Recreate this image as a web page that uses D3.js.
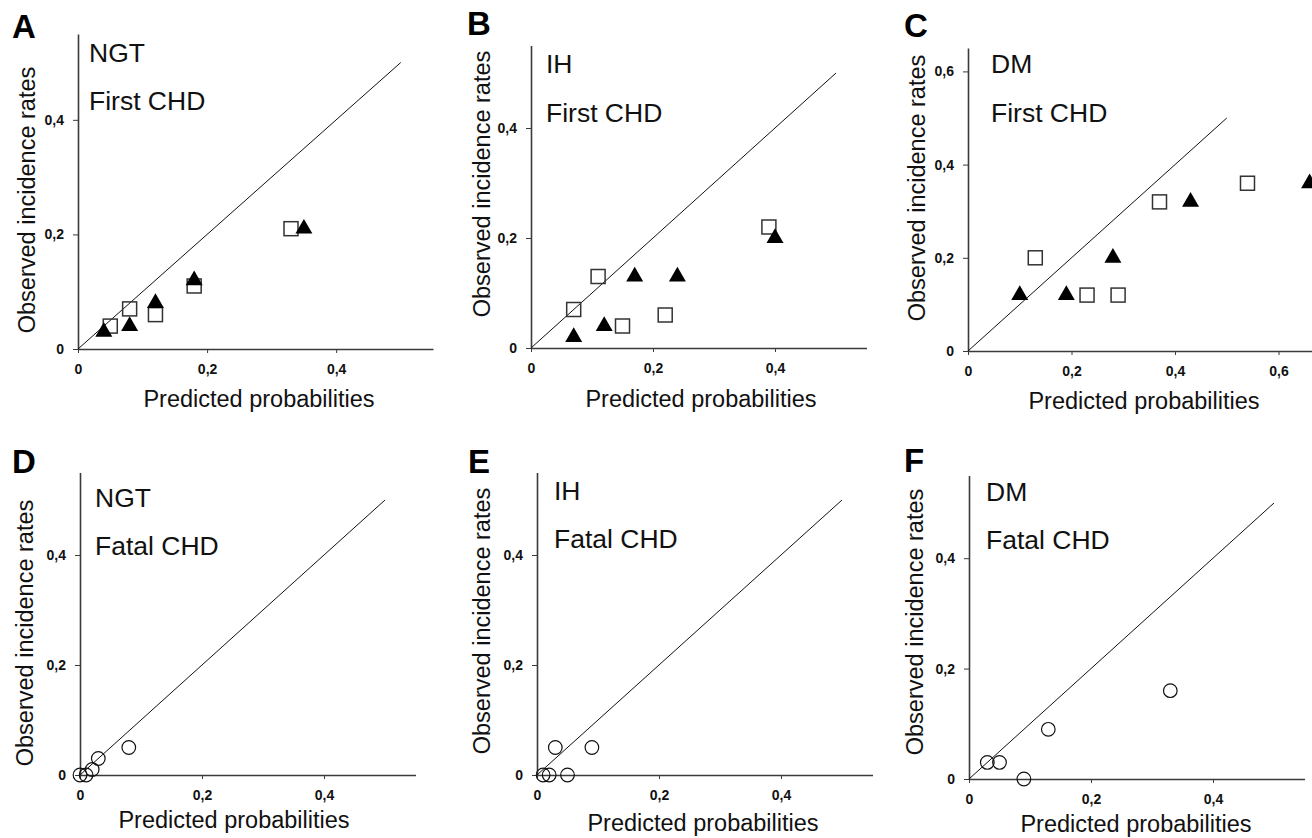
<!DOCTYPE html>
<html><head><meta charset="utf-8">
<script src="https://cdn.jsdelivr.net/npm/d3@7"></script>
<style>
body{margin:0;background:#fff}
svg{display:block;font-family:"Liberation Sans",Arial,Helvetica,sans-serif}
</style>
</head><body><svg id="c" width="1312" height="838"></svg>
<script>
// ---------- data ----------
const panelLetters = ["A","B","C","D","E","F"];
const groupNames   = ["NGT","IH","DM","NGT","IH","DM"];
const outcomes     = ["First CHD","First CHD","First CHD","Fatal CHD","Fatal CHD","Fatal CHD"];
const xTitle = "Predicted probabilities";
const yTitle = "Observed incidence rates";
const xTicksSmall = [0, 0.2, 0.4];
const xTicksWide  = [0, 0.2, 0.4, 0.6];
const yTicksSmall = [0, 0.2, 0.4];
const yTicksWide  = [0, 0.2, 0.4, 0.6];
const xDomainMax = [0.55, 0.55, 0.7, 0.55, 0.55, 0.55];
const yDomainMax = [0.55, 0.55, 0.65, 0.55, 0.55, 0.55];
const diagonalEnd = 0.5;

// [predicted, observed]
const squaresA   = [[0.05,0.04],[0.08,0.07],[0.12,0.06],[0.18,0.11],[0.33,0.21]];
const trianglesA = [[0.04,0.03],[0.08,0.04],[0.12,0.08],[0.18,0.12],[0.35,0.21]];
const squaresB   = [[0.07,0.07],[0.11,0.13],[0.15,0.04],[0.22,0.06],[0.39,0.22]];
const trianglesB = [[0.07,0.02],[0.12,0.04],[0.17,0.13],[0.24,0.13],[0.40,0.20]];
const squaresC   = [[0.13,0.20],[0.23,0.12],[0.29,0.12],[0.37,0.32],[0.54,0.36]];
const trianglesC = [[0.10,0.12],[0.19,0.12],[0.28,0.20],[0.43,0.32],[0.66,0.36]];
const circlesD   = [[0.00,0.00],[0.01,0.00],[0.02,0.01],[0.03,0.03],[0.08,0.05]];
const circlesE   = [[0.01,0.00],[0.02,0.00],[0.03,0.05],[0.05,0.00],[0.09,0.05]];
const circlesF   = [[0.03,0.03],[0.05,0.03],[0.09,0.00],[0.13,0.09],[0.33,0.16]];

const panelSquares   = [squaresA, squaresB, squaresC, [], [], []];
const panelTriangles = [trianglesA, trianglesB, trianglesC, [], [], []];
const panelCircles   = [[], [], [], circlesD, circlesE, circlesF];
const panelXTicks = [xTicksSmall, xTicksSmall, xTicksWide, xTicksSmall, xTicksSmall, xTicksSmall];
const panelYTicks = [yTicksSmall, yTicksSmall, yTicksWide, yTicksSmall, yTicksSmall, yTicksSmall];

// ---------- layout (pixels) ----------
const layout = [
  {x0:78,  x1:433,    y0:349, y1:33.9,  letter:[12,38],  g:[89,62],   o:110, yl:[35,200],  xl:[259,407]},
  {x0:531, x1:866.5,  y0:348, y1:45.5,  letter:[467,35], g:[546,73],  o:122, yl:[490,184], xl:[701,407]},
  {x0:968, x1:1330.3, y0:351, y1:48.1,  letter:[904,37], g:[991,73],  o:122, yl:[925,188], xl:[1144,409]},
  {x0:80,  x1:415.5,  y0:775, y1:472.5, letter:[12,473], g:[95,507],  o:555, yl:[33,633],  xl:[234,828]},
  {x0:537, x1:872.5,  y0:775, y1:472.5, letter:[468,473],g:[554,500], o:548, yl:[490,621], xl:[703,831]},
  {x0:969, x1:1304.5, y0:779, y1:475.4, letter:[904,472],g:[986,501], o:549, yl:[923,622], xl:[1136,832]}
];

const fmt = d => d === 0 ? "0" : d.toFixed(1).replace(".", ",");
const svg = d3.select("#c");

layout.forEach((L, i) => {
  const x = d3.scaleLinear().domain([0, xDomainMax[i]]).range([L.x0, L.x1]);
  const y = d3.scaleLinear().domain([0, yDomainMax[i]]).range([L.y0, L.y1]);
  const g = svg.append("g");

  // axes
  const xa = g.append("g").attr("transform", `translate(0,${L.y0})`)
    .call(d3.axisBottom(x).tickValues(panelXTicks[i]).tickFormat(fmt).tickSize(4).tickPadding(11).tickSizeOuter(0));
  const ya = g.append("g").attr("transform", `translate(${L.x0},0)`)
    .call(d3.axisLeft(y).tickValues(panelYTicks[i]).tickFormat(fmt).tickSize(5).tickPadding(9).tickSizeOuter(0));
  [xa, ya].forEach(a => {
    a.attr("font-size", null).attr("font-family", null);
    a.select(".domain").attr("stroke", "#3a3a3a").attr("stroke-width", 1.6);
    a.selectAll(".tick line").attr("stroke", "#3a3a3a").attr("stroke-width", 1);
    a.selectAll(".tick text").attr("fill", "#111")
      .style("font-size", "14px").style("font-weight", "bold");
  });

  // identity line
  g.append("line")
    .attr("x1", x(0)).attr("y1", y(0))
    .attr("x2", x(diagonalEnd)).attr("y2", y(diagonalEnd))
    .attr("stroke", "#111").attr("stroke-width", 1);

  // squares (open)
  const s = 14;
  g.selectAll("rect.sq").data(panelSquares[i]).join("rect").attr("class", "sq")
    .attr("x", d => x(d[0]) - s / 2).attr("y", d => y(d[1]) - s / 2)
    .attr("width", s).attr("height", s)
    .attr("fill", "none").attr("stroke", "#333").attr("stroke-width", 1.5);

  // triangles (filled)
  const tri = d3.symbol().type(d3.symbolTriangle).size(125);
  g.selectAll("path.tr").data(panelTriangles[i]).join("path").attr("class", "tr")
    .attr("transform", d => `translate(${x(d[0])},${y(d[1])})`)
    .attr("d", tri).attr("fill", "#000");

  // circles (open)
  g.selectAll("circle.ci").data(panelCircles[i]).join("circle").attr("class", "ci")
    .attr("cx", d => x(d[0])).attr("cy", d => y(d[1])).attr("r", 6.8)
    .attr("fill", "none").attr("stroke", "#111").attr("stroke-width", 1.2);

  // texts
  svg.append("text").attr("x", L.letter[0]).attr("y", L.letter[1])
    .style("font-size", "33px").style("font-weight", "bold").attr("fill", "#000").text(panelLetters[i]);
  svg.append("text").attr("x", L.g[0]).attr("y", L.g[1])
    .style("font-size", "26.5px").attr("fill", "#111").text(groupNames[i]);
  svg.append("text").attr("x", L.g[0]).attr("y", L.o)
    .style("font-size", "26.5px").attr("fill", "#111").text(outcomes[i]);
  svg.append("text").attr("transform", `translate(${L.yl[0]},${L.yl[1]}) rotate(-90)`)
    .attr("text-anchor", "middle").style("font-size", "23.5px").attr("fill", "#111").text(yTitle);
  svg.append("text").attr("x", L.xl[0]).attr("y", L.xl[1])
    .attr("text-anchor", "middle").style("font-size", "23.5px").attr("fill", "#111").text(xTitle);
});
</script>
</body></html>
